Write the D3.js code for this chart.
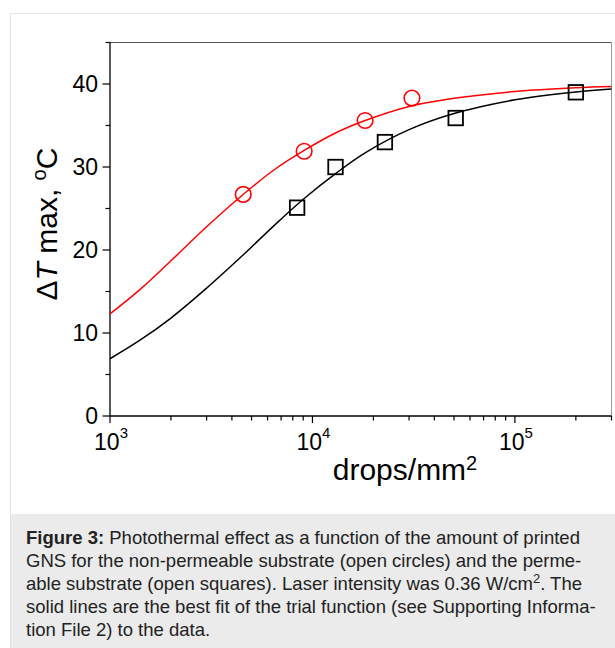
<!DOCTYPE html>
<html>
<head>
<meta charset="utf-8">
<script src="https://cdn.jsdelivr.net/npm/d3@7"></script>
<style>
    body { margin: 0; background: #fff; }
    svg { display: block; font-family: "Liberation Sans", Arial, sans-serif; }
</style>
</head>
<body>
<div id="chart"></div>
<script>
// open circles: non-permeable substrate
const circleX = [4550, 9100, 18200, 31000];
const circleY = [26.7, 31.9, 35.6, 38.3];

// open squares: permeable substrate
const squareX = [8400, 13000, 22800, 51000, 200000];
const squareY = [25.1, 30.0, 33.0, 35.9, 39.0];

// fit curves
const fitX = [1000, 1400, 2000, 3000, 4500, 6500, 9100, 13000, 18200, 30000, 51000, 100000, 200000, 300000];
const redFit = [12.3, 15.2, 18.7, 22.8, 26.6, 29.7, 32.0, 34.1, 35.6, 37.3, 38.3, 39.1, 39.55, 39.7];
const blackFit = [6.9, 9.1, 11.8, 15.4, 19.3, 23.0, 26.2, 29.2, 31.7, 34.5, 36.5, 38.1, 39.05, 39.4];

const yTicks = [0, 10, 20, 30, 40];
const yMinor = [5, 15, 25, 35, 45];
const xTicks = [1e3, 1e4, 1e5];
const xExp = ["3", "4", "5"];

const captionLines = [
    [["Figure 3:", "b"], [" Photothermal effect as a function of the amount of printed", ""]],
    [["GNS for the non-permeable substrate (open circles) and the perme-", ""]],
    [["able substrate (open squares). Laser intensity was 0.36 W/cm", ""], ["2", "sup"], [". The", "down"]],
    [["solid lines are the best fit of the trial function (see Supporting Informa-", ""]],
    [["tion File 2) to the data.", ""]]
];

const W = 615, H = 648;
const plot = { left: 110, right: 611.5, top: 42.5, bottom: 416 };

const svg = d3.select("#chart").append("svg")
    .attr("width", W)
    .attr("height", H);

// outer figure box + caption background
svg.append("rect")
    .attr("x", 10.5).attr("y", 13.5)
    .attr("width", 700).attr("height", 700)
    .attr("fill", "none")
    .attr("stroke", "#e3e3e3");

svg.append("rect")
    .attr("x", 11).attr("y", 514)
    .attr("width", W - 11).attr("height", H - 514)
    .attr("fill", "#ebebeb");

const x = d3.scaleLog()
    .domain([1e3, 3e5])
    .range([plot.left, plot.right]);

const y = d3.scaleLinear()
    .domain([0, 45])
    .range([plot.bottom, plot.top]);

// frame top / right
svg.append("line")
    .attr("x1", plot.left).attr("x2", plot.right)
    .attr("y1", plot.top).attr("y2", plot.top)
    .attr("stroke", "#555");
svg.append("line")
    .attr("x1", plot.right).attr("x2", plot.right)
    .attr("y1", plot.top).attr("y2", plot.bottom)
    .attr("stroke", "#999");

// x axis
const xMinorVals = [];
[1e3, 1e4, 1e5].forEach(dec => {
    for (let k = 2; k <= 9; k++) {
        if (dec * k <= 3e5) xMinorVals.push(dec * k);
    }
});

const xAxis = svg.append("g")
    .attr("transform", `translate(0,${plot.bottom})`);

xAxis.append("line")
    .attr("x1", plot.left).attr("x2", plot.right)
    .attr("stroke", "#000").attr("stroke-width", 1.3);

xAxis.selectAll(".xminor")
    .data(xMinorVals)
    .enter()
    .append("line")
    .attr("x1", d => x(d)).attr("x2", d => x(d))
    .attr("y1", 0).attr("y2", 4.5)
    .attr("stroke", "#000").attr("stroke-width", 1.2);

xAxis.selectAll(".xmajor")
    .data(xTicks)
    .enter()
    .append("line")
    .attr("x1", d => x(d)).attr("x2", d => x(d))
    .attr("y1", 0).attr("y2", 7)
    .attr("stroke", "#000").attr("stroke-width", 1.2);

const xLabels = xAxis.selectAll(".xlabel")
    .data(xTicks)
    .enter()
    .append("text")
    .attr("x", d => x(d) + 1)
    .attr("y", 34)
    .attr("text-anchor", "middle")
    .attr("font-size", 23)
    .attr("fill", "#000");
xLabels.append("tspan").text("10");
xLabels.append("tspan")
    .attr("font-size", 15)
    .attr("dy", -12)
    .text((d, i) => xExp[i]);

// y axis
const yAxis = svg.append("g")
    .attr("transform", `translate(${plot.left},0)`);

yAxis.append("line")
    .attr("y1", plot.top).attr("y2", plot.bottom)
    .attr("stroke", "#000").attr("stroke-width", 1.3);

yAxis.selectAll(".yminor")
    .data(yMinor)
    .enter()
    .append("line")
    .attr("x1", -4.5).attr("x2", 0)
    .attr("y1", d => y(d)).attr("y2", d => y(d))
    .attr("stroke", "#000").attr("stroke-width", 1.2);

yAxis.selectAll(".ymajor")
    .data(yTicks)
    .enter()
    .append("line")
    .attr("x1", -7.5).attr("x2", 0)
    .attr("y1", d => y(d)).attr("y2", d => y(d))
    .attr("stroke", "#000").attr("stroke-width", 1.2);

yAxis.selectAll(".ylabel")
    .data(yTicks)
    .enter()
    .append("text")
    .attr("x", -12)
    .attr("y", d => y(d))
    .attr("dy", "0.36em")
    .attr("text-anchor", "end")
    .attr("font-size", 23)
    .attr("fill", "#000")
    .text(d => d);

// axis titles
const xTitle = svg.append("text")
    .attr("x", 405)
    .attr("y", 480)
    .attr("text-anchor", "middle")
    .attr("font-size", 30)
    .attr("fill", "#000");
xTitle.append("tspan").text("drops/mm");
xTitle.append("tspan").attr("font-size", 20).attr("dy", -10).text("2");

const yTitle = svg.append("text")
    .attr("transform", "translate(57,224) rotate(-90)")
    .attr("text-anchor", "middle")
    .attr("font-size", 30)
    .attr("fill", "#000");
yTitle.append("tspan").text("\u0394");
yTitle.append("tspan").attr("font-style", "italic").text("T");
yTitle.append("tspan").text(" max, ");
yTitle.append("tspan").attr("font-size", 20).attr("dy", -11).text("o");
yTitle.append("tspan").attr("dy", 11).text("C");

// fit lines
const line = d3.line()
    .x(d => x(d[0]))
    .y(d => y(d[1]))
    .curve(d3.curveCatmullRom.alpha(0.5));

svg.append("path")
    .datum(fitX.map((v, i) => [v, blackFit[i]]))
    .attr("d", line)
    .attr("fill", "none")
    .attr("stroke", "#000")
    .attr("stroke-width", 1.5);

svg.append("path")
    .datum(fitX.map((v, i) => [v, redFit[i]]))
    .attr("d", line)
    .attr("fill", "none")
    .attr("stroke", "#ff0000")
    .attr("stroke-width", 1.5);

// markers
const sq = 14.5;
svg.selectAll(".square")
    .data(squareX.map((v, i) => [v, squareY[i]]))
    .enter()
    .append("rect")
    .attr("x", d => x(d[0]) - sq / 2)
    .attr("y", d => y(d[1]) - sq / 2)
    .attr("width", sq).attr("height", sq)
    .attr("fill", "none")
    .attr("stroke", "#000")
    .attr("stroke-width", 1.8);

svg.selectAll(".circle")
    .data(circleX.map((v, i) => [v, circleY[i]]))
    .enter()
    .append("circle")
    .attr("cx", d => x(d[0]))
    .attr("cy", d => y(d[1]))
    .attr("r", 7.8)
    .attr("fill", "none")
    .attr("stroke", "#ff0000")
    .attr("stroke-width", 1.6);

// caption
captionLines.forEach((parts, li) => {
    const row = svg.append("text")
        .attr("x", 26)
        .attr("y", 544 + li * 23)
        .attr("font-size", 18.5)
        .attr("fill", "#222");
    parts.forEach(([str, kind]) => {
        const t = row.append("tspan").text(str);
        if (kind === "b") t.attr("font-weight", "bold");
        if (kind === "sup") t.attr("font-size", 13).attr("dy", -7);
        if (kind === "down") t.attr("dy", 7);
    });
});
</script>
</body>
</html>
